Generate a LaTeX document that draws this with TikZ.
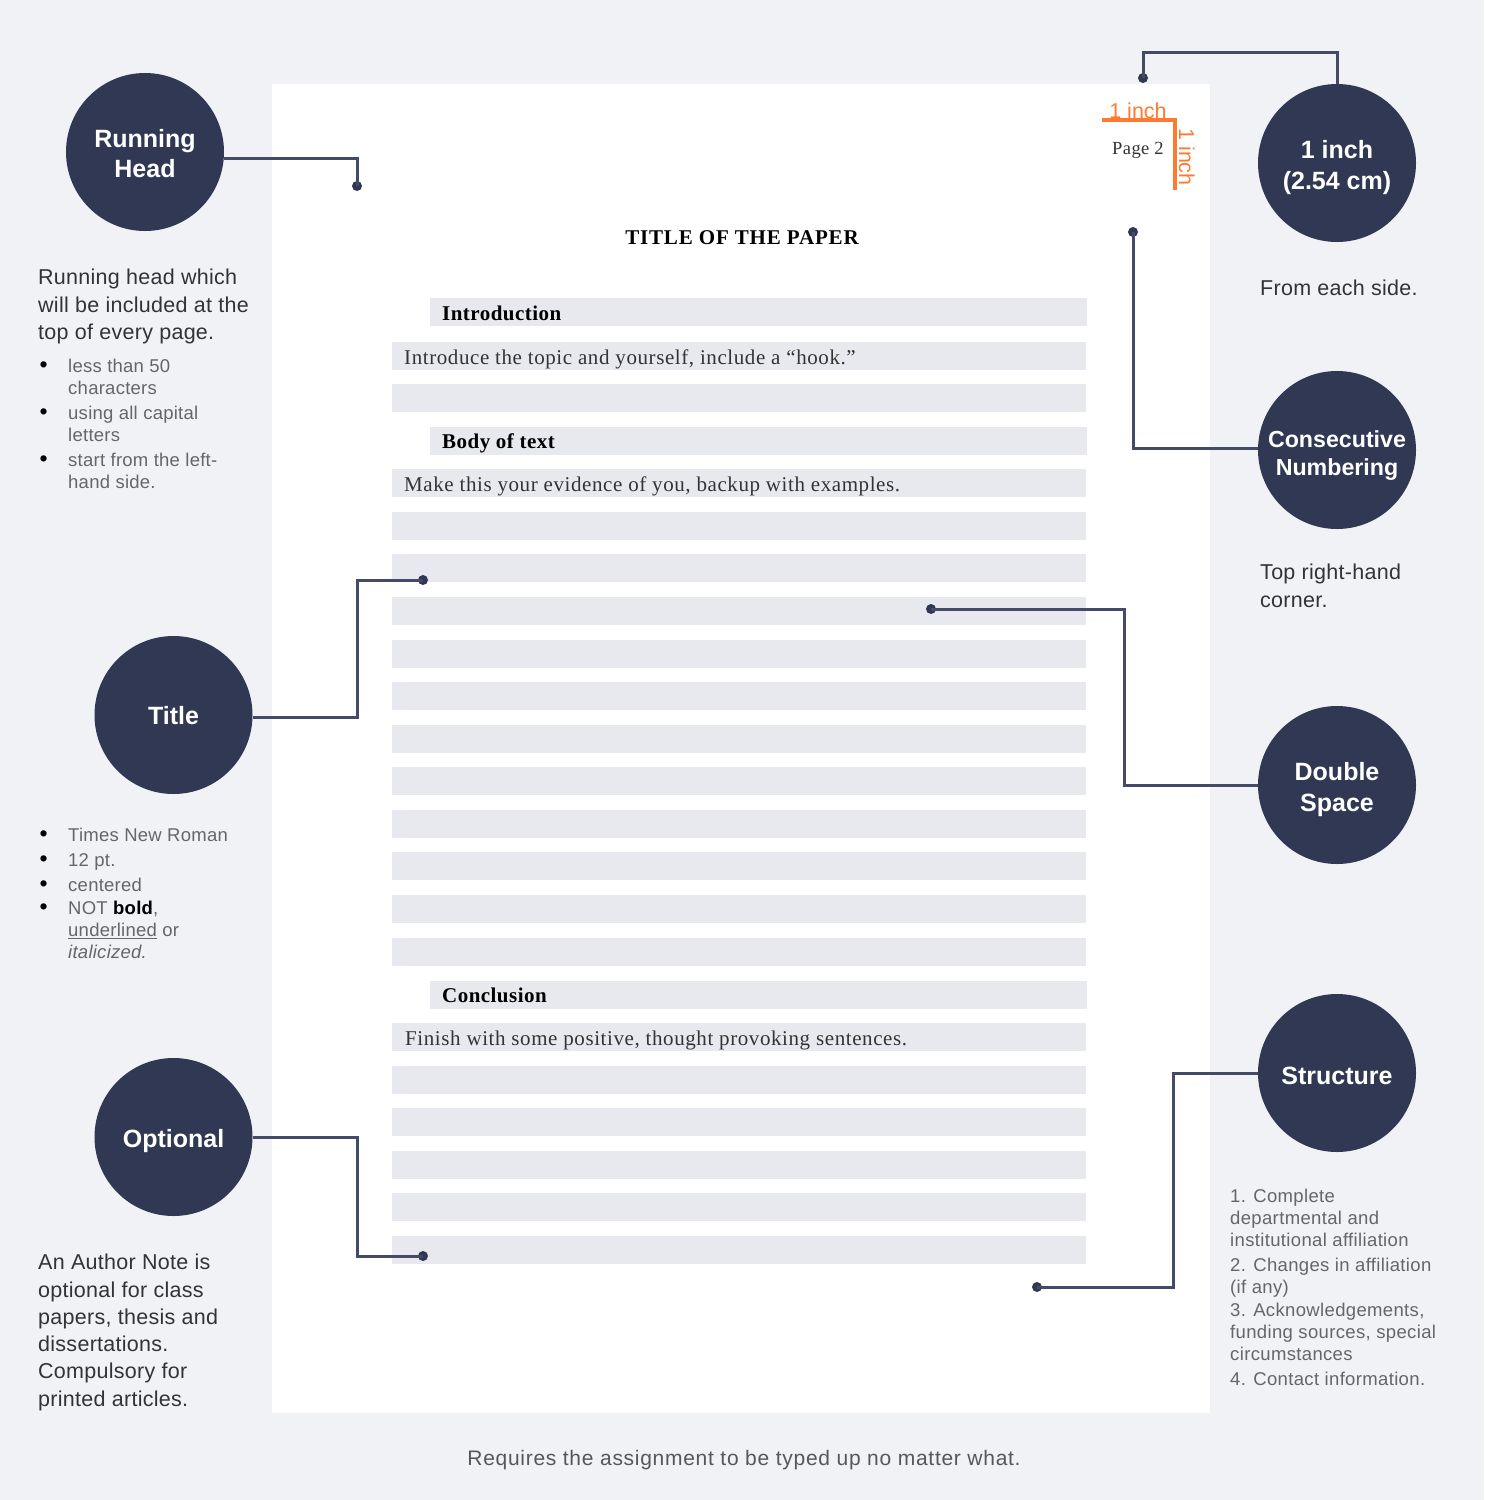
\documentclass[tikz,border=0pt]{standalone}
\usepackage{fontspec}
\setmainfont{Liberation Sans}
\newfontfamily\timesf[LetterSpace=2.8]{Liberation Serif}
\newfontfamily\pagef[LetterSpace=2.2]{Liberation Serif}
\newfontfamily\titlef[LetterSpace=3.9]{Liberation Serif}
\newfontfamily\paraf[LetterSpace=1.3]{Liberation Sans}
\newfontfamily\smallf[LetterSpace=1.4]{Liberation Sans}
\newfontfamily\structf[LetterSpace=1.9]{Liberation Sans}
\newfontfamily\footf[LetterSpace=3.4]{Liberation Sans}
\definecolor{bg}{HTML}{F0F2F6}
\definecolor{navy}{HTML}{303853}
\definecolor{wire}{HTML}{434B69}
\definecolor{barc}{HTML}{E8E9EE}
\definecolor{orng}{HTML}{FF7A30}
\definecolor{darktxt}{HTML}{333333}
\definecolor{greytxt}{HTML}{666666}
\newcommand{\bul}{\makebox[28pt][l]{\hspace*{-0.5pt}\textcolor{black}{\fontsize{23}{22}\selectfont •}}}
\newcommand{\ind}{\hspace*{28pt}}
\newcommand{\badgetxt}[2]{\raisebox{-#1pt}[0pt][0pt]{\begin{tabular}{@{}c@{}}#2\end{tabular}}}
\tikzset{
  x=1pt,y=-1pt,
  badge/.style={circle,fill=navy,minimum size=158pt,inner sep=0pt,text=white,align=center,font=\fontsize{25}{31}\selectfont\bfseries},
  wirel/.style={draw=wire,line width=3pt,line join=miter},
  dotn/.style={circle,fill=navy,minimum size=10pt,inner sep=0pt},
  bar/.style={fill=barc,draw=none},
  para/.style={anchor=north west,inner sep=0pt,align=left,text=darktxt,font=\fontsize{21.5}{27.3}\selectfont\paraf},
  small/.style={anchor=north west,inner sep=0pt,align=left,text=greytxt,font=\fontsize{18.5}{22}\selectfont\smallf},
  paper/.style={anchor=base west,inner sep=0pt,text=darktxt,font=\fontsize{21}{25}\selectfont\timesf},
  paperb/.style={paper,text=black,font=\fontsize{21}{25}\selectfont\timesf\bfseries},
  inch/.style={inner sep=0pt,text=orng,font=\fontsize{21.5}{25}\selectfont},
}
\begin{document}
\begin{tikzpicture}
\fill[bg] (0,0) rectangle (1484,1500);
\useasboundingbox (0,0) rectangle (1484,1500);
% paper
\fill[black!5] (270,84) rectangle (1213,1416);
\fill[white] (272,84) rectangle (1210,1413);
% bars
\foreach \y in {342,384,469,512,554,597,640,682,725,767,810,852,895,938,1023,1066,1108,1151,1193,1236}
  \fill[bar] (392,\y) rectangle (1086,\y+28);
\foreach \y in {298,427,981}
  \fill[bar] (430,\y) rectangle (1087,\y+28);
% paper text
\node[paperb,anchor=base,font=\fontsize{21}{25}\selectfont\titlef\bfseries] (ttl) at (742,244) {TITLE OF THE PAPER};
\node[paperb,font=\fontsize{21}{25}\selectfont\pagef\bfseries] (h1) at (442,320) {Introduction};
\node[paper] (t1) at (404,364) {Introduce the topic and yourself, include a “hook.”};
\node[paperb,font=\fontsize{21}{25}\selectfont\pagef\bfseries] (h2) at (442,448) {Body of text};
\node[paper] (t2) at (404,491) {Make this your evidence of you, backup with examples.};
\node[paperb,font=\fontsize{21}{25}\selectfont\pagef\bfseries] (h3) at (442,1002) {Conclusion};
\node[paper] (t3) at (405,1045) {Finish with some positive, thought provoking sentences.};
\node[paper,font=\fontsize{18.5}{22}\selectfont\pagef] (pg) at (1112,154) {Page 2};
% orange marks
\node[inch,anchor=base] (i1) at (1138,118) {1 inch};
\node[inch,anchor=base,rotate=-90] (i2) at (1179,157) {1 inch};
\coordinate (oa) at (1102,120);
\coordinate (ob) at (1175,120);
\coordinate (oc) at (1175,190);
\draw[orng,line width=3.2pt] (oa) -- (ob) -- (oc);
% badges
\node[badge,font=\fontsize{25}{30}\selectfont\bfseries] (rh) at (145,152) {\badgetxt{10.5}{Running\\Head}};
\node[badge] (oi) at (1337,163) {\badgetxt{11.5}{1 inch\\(2.54 cm)}};
\node[badge,font=\fontsize{23.2}{28}\selectfont\bfseries] (cn) at (1337,450) {\badgetxt{12.5}{Consecutive\\Numbering}};
\node[badge] (ti) at (173.5,715) {\badgetxt{10}{Title}};
\node[badge] (ds) at (1337,785) {\badgetxt{11.5}{Double\\Space}};
\node[badge] (op) at (173.5,1137) {\badgetxt{10.5}{Optional}};
\node[badge] (st) at (1337,1073) {\badgetxt{12}{Structure}};
% dots
\node[dotn] (drh) at (357,186) {};
\node[dotn] (doi) at (1143,78) {};
\node[dotn] (dcn) at (1133,232) {};
\node[dotn] (dti) at (423,580) {};
\node[dotn] (dds) at (931,609) {};
\node[dotn] (dop) at (423,1256) {};
\node[dotn] (dst) at (1037,1287) {};
\coordinate (top) at (1143,52);
% connectors
\draw[wirel] (rh.-5.5) -| (drh.center);
\draw[wirel] (oi.north) |- (top) -- (doi.center);
\draw[wirel] (cn.179) -| (dcn.center);
\draw[wirel] (ti.-2) -| (357,580) -- (dti.center);
\draw[wirel] (ds.west) -| (1124,609) -- (dds.center);
\draw[wirel] (op.east) -| (357,1256) -- (dop.center);
\draw[wirel] (st.west) -| (1173,1287) -- (dst.center);
% side texts
\node[para] (p1) at (38,269) {Running head which\\will be included at the\\top of every page.};
\node[small] (l1) at (40,359) {\bul less than 50\\\ind characters\\[3pt]\bul using all capital\\\ind letters\\[3pt]\bul start from the left-\\\ind hand side.};
\node[para] (p2) at (1260,280) {From each side.};
\node[para] (p3) at (1260,564) {Top right-hand\\corner.};
\node[small] (l2) at (40,828) {\bul Times New Roman\\[3pt]\bul 12 pt.\\[3pt]\bul centered\\[1pt]\bul NOT \textcolor{black}{\textbf{bold}},\\\ind \underline{underlined} or\\\ind \textit{italicized.}};
\node[para] (p4) at (38,1254) {An Author Note is\\optional for class\\papers, thesis and\\dissertations.\\Compulsory for\\printed articles.};
\node[small,font=\fontsize{18.5}{22}\selectfont\structf] (l3) at (1230,1189) {1. Complete\\departmental and\\institutional affiliation\\[2.5pt]2. Changes in affiliation\\(if any)\\[1pt]3. Acknowledgements,\\funding sources, special\\circumstances\\[3pt]4. Contact information.};
\node[anchor=base,inner sep=0pt,text=greytxt!85!black,font=\fontsize{21}{25}\selectfont\footf] (ft) at (744,1465) {Requires the assignment to be typed up no matter what.};
\end{tikzpicture}
\end{document}
